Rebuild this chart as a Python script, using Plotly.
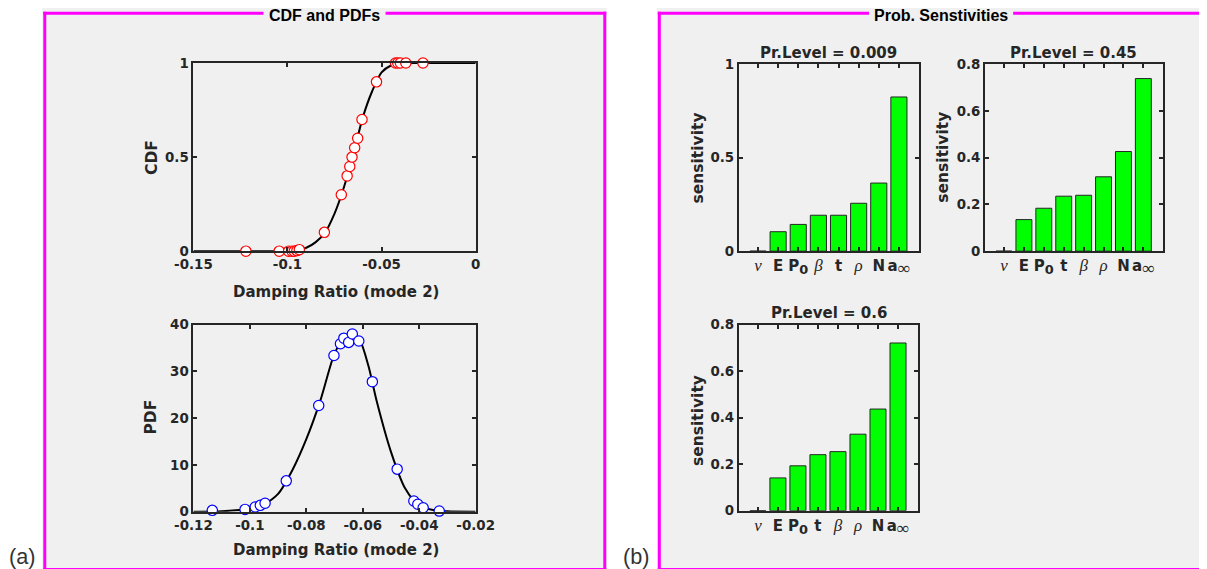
import plotly.graph_objects as go

# ---------------- data ----------------
# CDF panel: sample points (red circles) and the smooth fitted curve
cdf_pts_x = [-0.1221, -0.1044, -0.0994, -0.0976, -0.0964, -0.0950, -0.0937,
             -0.0804, -0.0714, -0.0683, -0.0669, -0.0657, -0.0643, -0.0627,
             -0.0604, -0.0527, -0.0426, -0.0414, -0.0400, -0.0371, -0.0280]
cdf_pts_y = [0.0, 0.0, 0.0, 0.0, 0.0, 0.003, 0.008,
             0.10, 0.30, 0.40, 0.45, 0.50, 0.55, 0.60,
             0.70, 0.90, 1.0, 1.0, 1.0, 1.0, 1.0]
cdf_curve_x = [-0.15, -0.12, -0.10, -0.095, -0.09, -0.085, -0.08, -0.075, -0.07,
               -0.065, -0.06, -0.055, -0.05, -0.045, -0.04, -0.03, 0.0]
cdf_curve_y = [0.0, 0.0, 0.0, 0.005, 0.018, 0.048, 0.10, 0.20, 0.34,
               0.515, 0.71, 0.85, 0.95, 0.987, 0.998, 1.0, 1.0]

# PDF panel: sample points (blue circles) and the smooth fitted curve
pdf_pts_x = [-0.1133, -0.1017, -0.0981, -0.0963, -0.0946, -0.0871, -0.0756,
             -0.0702, -0.0679, -0.0667, -0.0650, -0.0637, -0.0614, -0.0566,
             -0.0478, -0.0419, -0.0405, -0.0386, -0.0329]
pdf_pts_y = [0.29, 0.5, 1.0, 1.36, 1.8, 6.6, 22.7,
             33.4, 35.9, 37.1, 36.2, 38.0, 36.5, 27.8,
             9.1, 2.3, 1.6, 0.86, 0.14]
pdf_curve_x = [-0.12, -0.11, -0.105, -0.10, -0.095, -0.09, -0.085, -0.08, -0.075,
               -0.07, -0.067, -0.064, -0.061, -0.058, -0.055, -0.05, -0.045,
               -0.04, -0.035, -0.03, -0.02]
pdf_curve_y = [0.0, 0.1, 0.3, 0.7, 1.6, 3.8, 8.8, 15.5, 23.8,
               33.8, 36.8, 38.2, 36.6, 31.2, 23.5, 12.8, 5.0,
               1.3, 0.35, 0.08, 0.0]

# Sensitivity bar charts
sens1_labels = ["nu", "E", "P0", "beta", "t", "rho", "N", "ainf"]
sens1_values = [0.0, 0.104, 0.143, 0.192, 0.192, 0.256, 0.364, 0.824]
sens2_labels = ["nu", "E", "P0", "t", "beta", "rho", "N", "ainf"]
sens2_values = [0.0, 0.135, 0.1835, 0.235, 0.239, 0.318, 0.426, 0.738]
sens3_labels = ["nu", "E", "P0", "t", "beta", "rho", "N", "ainf"]
sens3_values = [0.0, 0.141, 0.193, 0.241, 0.254, 0.329, 0.437, 0.721]
bar_titles = ["Pr.Level = 0.009", "Pr.Level = 0.45", "Pr.Level = 0.6"]

cdf_xticks = [-0.15, -0.1, -0.05, 0]
cdf_xtext = ["-0.15", "-0.1", "-0.05", "0"]
cdf_yticks = [0, 0.5, 1]
cdf_ytext = ["0", "0.5", "1"]
pdf_xticks = [-0.12, -0.1, -0.08, -0.06, -0.04, -0.02]
pdf_xtext = ["-0.12", "-0.1", "-0.08", "-0.06", "-0.04", "-0.02"]
pdf_yticks = [0, 10, 20, 30, 40]
pdf_ytext = ["0", "10", "20", "30", "40"]
bar1_yticks = [0, 0.5, 1]
bar1_ytext = ["0", "0.5", "1"]
bar_yticks = [0, 0.2, 0.4, 0.6, 0.8]
bar_ytext = ["0", "0.2", "0.4", "0.6", "0.8"]

# ---------------- placement (pixel boxes of the 1207x569 picture) ----------------
# The photographed page shows the page slightly reduced and offset; these
# constants map target picture pixels back to figure pixels.
S, OX, OY, BODY = 0.968, 19.0, 7.5, 8
W = 1220
H = 573


def fx(x):
    return (x - OX) / S - BODY


def fy(y):
    return (y - OY) / S - BODY


def px(x):
    return fx(x) / W


def py(y):
    return 1 - fy(y) / H


def fs(size):
    return round(size / S, 1)


TXT = "#262626"
AXFONT = "DejaVu Sans"


def greek(ch):
    return ('<span style="font-family:\'Liberation Serif\';font-weight:normal;'
            'font-size:%gpx"><i>%s</i></span>' % (fs(16.5), ch))


LABEL_HTML = {
    "nu": greek("\u03bd"),
    "beta": greek("\u03b2"),
    "rho": greek("\u03c1"),
    "E": "E",
    "P0": 'P<sub><span style="font-size:%gpx">0</span></sub>' % fs(12.5),
    "t": "t",
    "N": "N",
    "ainf": ('a<sub><span style="font-family:\'Liberation Serif\';font-weight:normal;'
             'font-size:%gpx">\u221e</span></sub>' % fs(17)),
}


def axis_common():
    return dict(showline=True, linewidth=2, linecolor=TXT, mirror="ticks",
                ticks="inside", ticklen=4, tickwidth=1.5, tickcolor=TXT,
                showgrid=False, zeroline=False, tickangle=0,
                tickfont=dict(family=AXFONT, size=fs(13), color=TXT, weight="bold"))


fig = go.Figure()

# CDF
fig.add_trace(go.Scatter(x=cdf_curve_x, y=cdf_curve_y, mode="lines",
                         line=dict(color="black", width=2, shape="spline", smoothing=0.8),
                         xaxis="x", yaxis="y", showlegend=False, hoverinfo="skip"))
fig.add_trace(go.Scatter(x=cdf_pts_x, y=cdf_pts_y, mode="markers",
                         marker=dict(symbol="circle", size=fs(10), color="white",
                                     line=dict(color="#ff0000", width=1.2)),
                         cliponaxis=False, xaxis="x", yaxis="y", showlegend=False))
# PDF
fig.add_trace(go.Scatter(x=pdf_curve_x, y=pdf_curve_y, mode="lines",
                         line=dict(color="black", width=2, shape="spline", smoothing=0.8),
                         xaxis="x2", yaxis="y2", showlegend=False, hoverinfo="skip"))
fig.add_trace(go.Scatter(x=pdf_pts_x, y=pdf_pts_y, mode="markers",
                         marker=dict(symbol="circle", size=fs(10), color="white",
                                     line=dict(color="#0000ff", width=1.2)),
                         cliponaxis=False, xaxis="x2", yaxis="y2", showlegend=False))

# Bars
bar_sets = [(sens1_values, "x3", "y3"),
            (sens2_values, "x4", "y4"),
            (sens3_values, "x5", "y5")]
for vals, xa, ya in bar_sets:
    fig.add_trace(go.Bar(x=list(range(1, len(vals) + 1)), y=vals, width=0.8,
                         marker=dict(color="#00ff00", line=dict(color=TXT, width=1)),
                         xaxis=xa, yaxis=ya, showlegend=False))

layout = dict(width=W, height=H, margin=dict(l=0, r=0, t=0, b=0),
              paper_bgcolor="white", plot_bgcolor="white", bargap=0.2)


def dom_x(a, b):
    return [px(a), px(b)]


def dom_y(top, bottom):
    return [py(bottom), py(top)]


ax = axis_common()
layout["xaxis"] = dict(ax, domain=dom_x(193, 475), range=[-0.15, 0], anchor="y",
                       tickvals=cdf_xticks, ticktext=cdf_xtext)
layout["yaxis"] = dict(ax, domain=dom_y(63, 250), range=[0, 1], anchor="x",
                       tickvals=cdf_yticks, ticktext=cdf_ytext)
layout["xaxis2"] = dict(ax, domain=dom_x(193, 475), range=[-0.12, -0.02], anchor="y2",
                        tickvals=pdf_xticks, ticktext=pdf_xtext)
layout["yaxis2"] = dict(ax, domain=dom_y(323, 509), range=[0, 40], anchor="x2",
                        tickvals=pdf_yticks, ticktext=pdf_ytext)

bar_boxes = [((738, 918), (64, 250), [0, 1], bar1_yticks, bar1_ytext, sens1_labels),
             ((984, 1162), (64, 250), [0, 0.8], bar_yticks, bar_ytext, sens2_labels),
             ((738, 917), (323, 508), [0, 0.8], bar_yticks, bar_ytext, sens3_labels)]
for i, ((x0, x1), (y0, y1), yr, yt, ytt, labs) in enumerate(bar_boxes):
    n = i + 3
    layout[f"xaxis{n}"] = dict(ax, domain=dom_x(x0, x1), range=[0.05, 9.0], anchor=f"y{n}",
                               tickvals=list(range(1, 9)),
                               ticktext=[LABEL_HTML[l] for l in labs],
                               tickfont=dict(family=AXFONT, size=fs(14.5), color=TXT,
                                             weight="bold"))
    layout[f"yaxis{n}"] = dict(ax, domain=dom_y(y0, y1), range=yr, anchor=f"x{n}",
                               tickvals=yt, ticktext=ytt)

# panel backgrounds & borders
MAG = "#ff00ff"
GRAY = "#f0f0f0"
shapes = []


def rect(x0, x1, y0, y1, color):
    shapes.append(dict(type="rect", xref="paper", yref="paper",
                       x0=px(x0), x1=px(x1), y0=py(y1), y1=py(y0),
                       fillcolor=color, line=dict(width=0), layer="below"))


# left panel
rect(42, 606, 2, 570, GRAY)
rect(43, 46, 12, 568, MAG)
rect(602.5, 605.5, 12, 568, MAG)
rect(43, 605.5, 12, 15, MAG)
rect(43, 605.5, 565, 568, MAG)
# right panel (runs off the right edge)
rect(656, 1208, 2, 570, GRAY)
rect(657, 660, 12, 568, MAG)
rect(657, 1208, 12, 15, MAG)
rect(657, 1208, 565, 568, MAG)
# gaps in the top border line behind the panel titles
rect(263, 385, 8, 20, GRAY)
rect(868, 1012, 8, 20, GRAY)
layout["shapes"] = shapes

ann = []


def text(x, y, s, size, weight="bold", angle=0, family=AXFONT, color=TXT, **kw):
    d = dict(x=px(x), y=py(y), xref="paper", yref="paper", text=s, showarrow=False,
             xanchor="center", yanchor="middle", textangle=angle,
             font=dict(family=family, size=fs(size), color=color, weight=weight))
    d.update(kw)
    ann.append(d)


text(324, 16, "CDF and PDFs", 15.5, family="Liberation Sans", color="black")
text(940, 16, "Prob. Senstivities", 15.5, family="Liberation Sans", color="black")
text(335, 291, "Damping Ratio (mode 2)", 14.5)
text(335, 547, "Damping Ratio (mode 2)", 14.5)
text(151, 157, "CDF", 15, angle=-90)
text(151, 415, "PDF", 15, angle=-90)
text(697, 157, "sensitivity", 15, angle=-90)
text(942, 157, "sensitivity", 15, angle=-90)
text(697, 418, "sensitivity", 15, angle=-90)
text(827.5, 53, bar_titles[0], 14.5)
text(1072.5, 53, bar_titles[1], 14.5)
text(828.3, 311, bar_titles[2], 14.5)
text(22, 554, "(a)", 21, weight="normal", family="Liberation Sans", color="#333333")
text(636, 554, "(b)", 21, weight="normal", family="Liberation Sans", color="#333333")
layout["annotations"] = ann

fig.update_layout(**layout)
fig.write_html("out.html")
